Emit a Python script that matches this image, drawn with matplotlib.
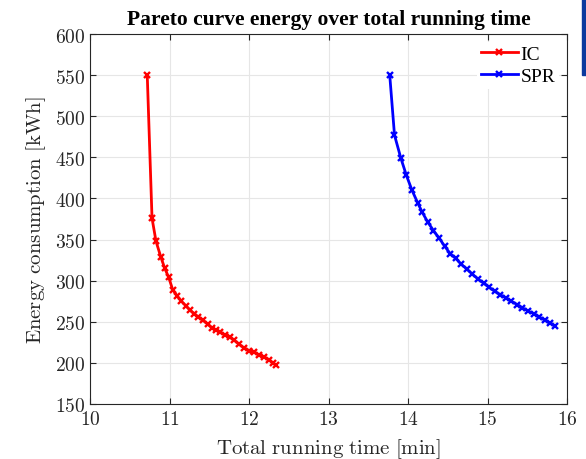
import matplotlib
matplotlib.use('Agg')
from matplotlib import pyplot as plt
from matplotlib.patches import Rectangle

# Pareto front data
ic_time = [10.72, 10.78, 10.83, 10.89, 10.94, 10.99, 11.04, 11.10, 11.15, 11.21,
           11.26, 11.31, 11.36, 11.42, 11.48, 11.53, 11.58, 11.64, 11.70, 11.76,
           11.81, 11.87, 11.94, 12.00, 12.06, 12.12, 12.19, 12.25, 12.30, 12.34]
ic_energy = [550, 376, 348, 329, 315, 304, 289, 281, 275, 269,
             264, 260, 256, 252, 247, 243, 240, 237, 234, 231,
             228, 223, 218, 215, 213, 210, 207, 204, 200, 197]

spr_time = [13.77, 13.83, 13.91, 13.98, 14.05, 14.12, 14.18, 14.25, 14.32, 14.39,
            14.46, 14.53, 14.60, 14.67, 14.74, 14.81, 14.88, 14.95, 15.02, 15.09,
            15.16, 15.23, 15.30, 15.37, 15.44, 15.51, 15.58, 15.65, 15.72, 15.79, 15.85]
spr_energy = [550, 477, 449, 428, 410, 395, 383, 371, 361, 352,
              342, 333, 327, 320, 314, 308, 302, 297, 292, 287,
              283, 279, 275, 271, 267, 263, 260, 256, 252, 248, 245]

xticks = [10, 11, 12, 13, 14, 15, 16]
yticks = [150, 200, 250, 300, 350, 400, 450, 500, 550, 600]

plt.rcParams['mathtext.fontset'] = 'cm'

fig = plt.figure(figsize=(5.86, 4.60), dpi=100)
ax = fig.add_axes([0.1536, 0.1196, 0.8140, 0.8043])

ax.plot(ic_time, ic_energy, color='red', marker='x', markersize=5,
        markeredgewidth=1.7, linewidth=2, label='IC')
ax.plot(spr_time, spr_energy, color='blue', marker='x', markersize=5,
        markeredgewidth=1.7, linewidth=2, label='SPR')

ax.set_xlim(10, 16)
ax.set_ylim(150, 600)
ax.set_xticks(xticks, ['$%d$' % v for v in xticks])
ax.set_yticks(yticks, ['$%d$' % v for v in yticks])
ax.tick_params(direction='in', top=True, right=True, labelsize=14,
               length=4, width=0.8, color='#262626', labelcolor='#262626')
ax.grid(True, color='#e6e6e6', linewidth=0.8)
ax.set_axisbelow(True)
for s in ax.spines.values():
    s.set_color('#262626')
    s.set_linewidth(0.8)

ax.set_xlabel(r'$\mathrm{Total\ running\ time\ [min]}$', fontsize=15,
              color='#262626', labelpad=6)
ax.set_ylabel(r'$\mathrm{Energy\ consumption\ [kWh]}$', fontsize=15,
              color='#262626', labelpad=5)
ax.set_title('Pareto curve energy over total running time', fontsize=15.5,
             fontweight='bold', family='Liberation Serif', pad=7)

leg = ax.legend(loc='upper right', frameon=True, handlelength=1.9,
                numpoints=1, borderpad=0.2, labelspacing=0.2, handletextpad=0.15,
                borderaxespad=0.4, prop={'family': 'Liberation Serif', 'size': 14})
leg.get_frame().set_edgecolor('none')
leg.get_frame().set_facecolor('white')
leg.get_frame().set_alpha(1)

# blue slide edge at the right border
fig.patches.append(Rectangle((582 / 586, 1 - 76 / 460), 4 / 586, 76 / 460,
                             transform=fig.transFigure, color='#0b3a9e',
                             zorder=10))

fig.savefig('out.png', dpi=100)
